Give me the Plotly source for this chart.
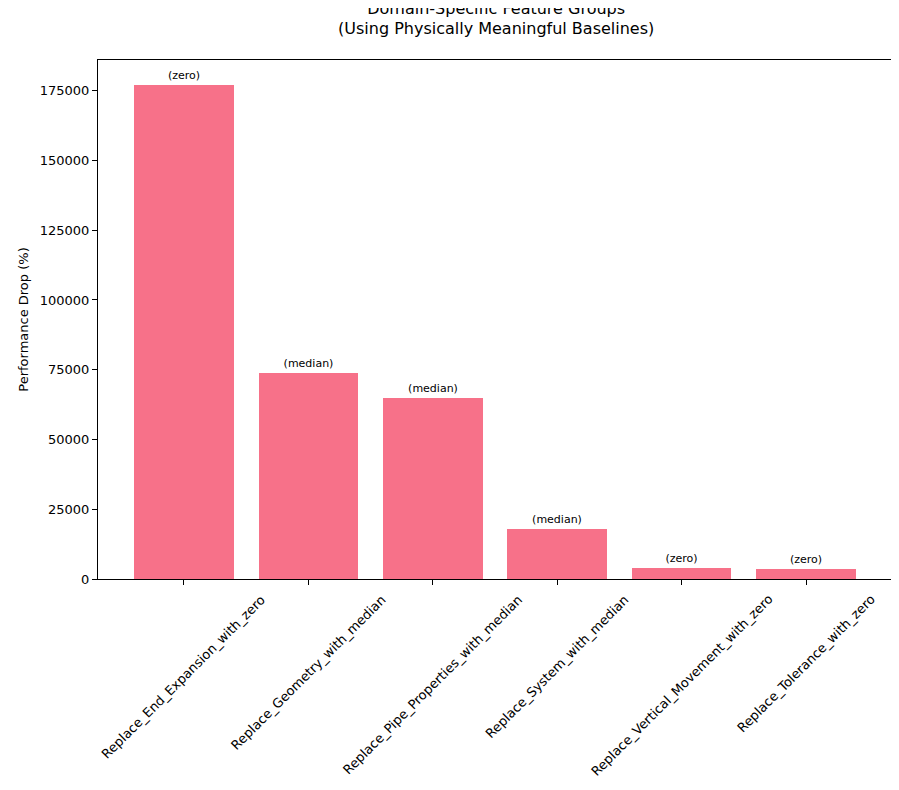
import plotly.graph_objects as go

categories = ["Replace_End_Expansion_with_zero", "Replace_Geometry_with_median",
              "Replace_Pipe_Properties_with_median", "Replace_System_with_median",
              "Replace_Vertical_Movement_with_zero", "Replace_Tolerance_with_zero"]
values = [177100, 73700, 64700, 18000, 3950, 3600]
labels = ["(zero)", "(median)", "(median)", "(median)", "(zero)", "(zero)"]

x = list(range(len(categories)))
fig = go.Figure(go.Bar(x=x, y=values, width=0.8, marker_color="#f77189",
                       marker_line_width=0,
                       text=labels, textposition="outside", cliponaxis=False,
                       textfont=dict(size=11, color="black")))
for i, c in enumerate(categories):
    fig.add_annotation(x=i, xref="x", y=0, yref="paper", yshift=-10, text=c,
                       textangle=-45, showarrow=False, xanchor="center", yanchor="top",
                       font=dict(size=13))
fig.update_layout(
    width=899, height=790, plot_bgcolor="white", paper_bgcolor="white",
    margin=dict(l=90, r=15, t=52, b=219, autoexpand=False),
    font=dict(family="DejaVu Sans", size=13, color="black"),
    title=dict(text="Domain-Specific Feature Groups<br>(Using Physically Meaningful Baselines)",
               x=0.543, xanchor="center", y=0.993, yanchor="top", font=dict(size=16)),
    showlegend=False, bargap=0,
)
fig.update_xaxes(tickvals=x, ticktext=[""] * len(x), range=[-0.69, 5.69], automargin=False,
                 showline=True, linecolor="black", mirror=True, ticks="outside",
                 ticklen=5, tickcolor="black", showgrid=False)
fig.update_yaxes(title_text="Performance Drop (%)", title_font=dict(size=13), title_standoff=8,
                 range=[0, 186000], automargin=False,
                 tickvals=[0, 25000, 50000, 75000, 100000, 125000, 150000, 175000],
                 tickformat="d", showline=True, linecolor="black", mirror=True,
                 ticks="outside", ticklen=5, tickcolor="black", showgrid=False, zeroline=False)
fig.write_html("out.html")
